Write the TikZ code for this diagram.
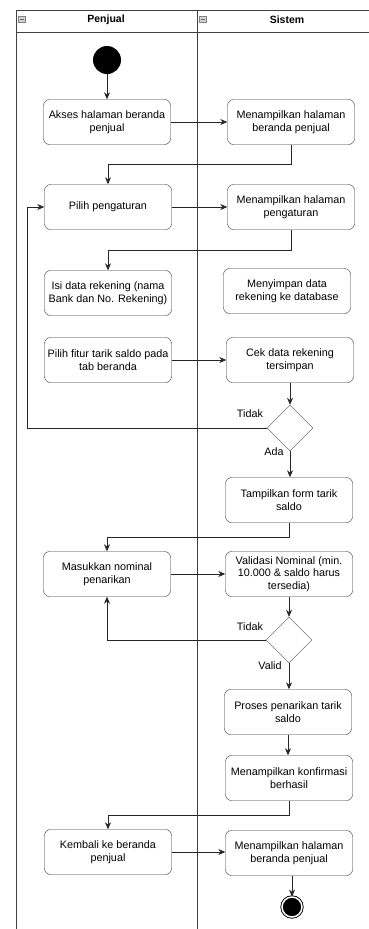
\documentclass[tikz,border=0pt]{standalone}
\usepackage{fontspec}
\setmainfont{Liberation Sans}
\usetikzlibrary{shapes.geometric,arrows.meta,calc}
\begin{document}
\begin{tikzpicture}[
        x=1pt, y=-1pt,
        font=\fontsize{10.8}{12.5}\selectfont,
        act/.style={draw=black!80, rounded corners=6pt, minimum width=127pt, minimum height=45pt, align=center, inner sep=2pt},
        choice/.style={diamond, draw=black!70, minimum size=46pt, inner sep=0pt},
        startnode/.style={circle, fill=black, minimum size=28pt, inner sep=0pt},
        finalnode/.style={circle, fill=black, draw=black, double=white, double distance=1.5pt, line width=0.9pt, minimum size=20pt, inner sep=0pt},
        lane/.style={draw=black!75, line width=0.8pt},
        arrow/.style={-{Stealth[length=7pt,width=6pt]}, draw=black!85, line width=0.7pt},
        guard/.style={inner sep=0pt}
    ]
        \useasboundingbox (0,0) rectangle (369,929);

        % Swimlanes
        \draw[lane] (16,929) -- (16,10) -- (369,10);
        \draw[lane] (16,32) -- (369,32);
        \draw[lane] (197,10) -- (197,929);
        \foreach \x in {18,199}
        {
            \draw[draw=gray, fill=gray!35] (\x,16) rectangle (\x+7,22);
            \draw[black!60] (\x+1.5,19) -- (\x+5.5,19);
        }
        \node[font=\fontsize{10.5}{12}\selectfont\bfseries] (hpenjual) at (106,20) {Penjual};
        \node[font=\fontsize{10.5}{12}\selectfont\bfseries] (hsistem) at (287,20) {Sistem};

        % Penjual
        \node[startnode] (start) at (107,60) {};
        \node[act] (a1) at (107,122) {Akses halaman beranda\\penjual};
        \node[act] (a2) at (108,207) {Pilih pengaturan};
        \node[act] (a3) at (108,293) {Isi data rekening (nama\\Bank dan No. Rekening)};
        \node[act] (a4) at (108,360) {Pilih fitur tarik saldo pada\\tab beranda};
        \node[act] (a5) at (107,574) {Masukkan nominal\\penarikan};
        \node[act] (a6) at (108,852) {Kembali ke beranda\\penjual};

        % Sistem
        \node[act] (s1) at (291,122) {Menampilkan halaman\\beranda penjual};
        \node[act] (s2) at (291,207) {Menampilkan halaman\\pengaturan};
        \node[act] (s3) at (287,291) {Menyimpan data\\rekening ke database};
        \node[act] (s4) at (290,360) {Cek data rekening\\tersimpan};
        \node[choice] (d1) at (290,428) {};
        \node[act] (s5) at (289,500) {Tampilkan form tarik\\saldo};
        \node[act] (s6) at (289,574) {Validasi Nominal (min.\\10.000 \& saldo harus\\tersedia)};
        \node[choice] (d2) at (289,640) {};
        \node[act] (s7) at (288,712) {Proses penarikan tarik\\saldo};
        \node[act] (s8) at (289,778) {Menampilkan konfirmasi\\berhasil};
        \node[act] (s9) at (289,853) {Menampilkan halaman\\beranda penjual};
        \node[finalnode] (fin) at (292,907) {};

        % Guards
        \node[guard] (tidak1) at (250,414) {Tidak};
        \node[guard] (ada) at (274,452) {Ada};
        \node[guard] (tidak2) at (250,627) {Tidak};
        \node[guard] (valid) at (270,666) {Valid};

        % Flows
        \draw[arrow] (start) -- (a1);
        \foreach \a/\b in {a1/s1, a2/s2, a4/s4, a5/s6, a6/s9}
            \draw[arrow] (\a.east) -- (\b.west |- \a.east);
        \foreach \a/\b in {s4/d1, d1/s5, s6/d2, d2/s7, s7/s8}
            \draw[arrow] (\a.south) -- (\a.south |- \b.north);
        \draw[arrow] (fin.north |- s9.south) -- (fin.north);
        \foreach \a/\b in {s1/a2, s2/a3, s5/a5, s8/a6}
            \draw[arrow] (\a.south) -- ($(\a.south)!.5!(\a.south |- \b.north)$) -| (\b.north);
        \coordinate (back) at (27,0);
        \draw[arrow] (d1.west) -- (d1.west -| back) |- (a2.west);
        \draw[arrow] (d2.west) -| (a5.south);
    \end{tikzpicture}
\end{document}
